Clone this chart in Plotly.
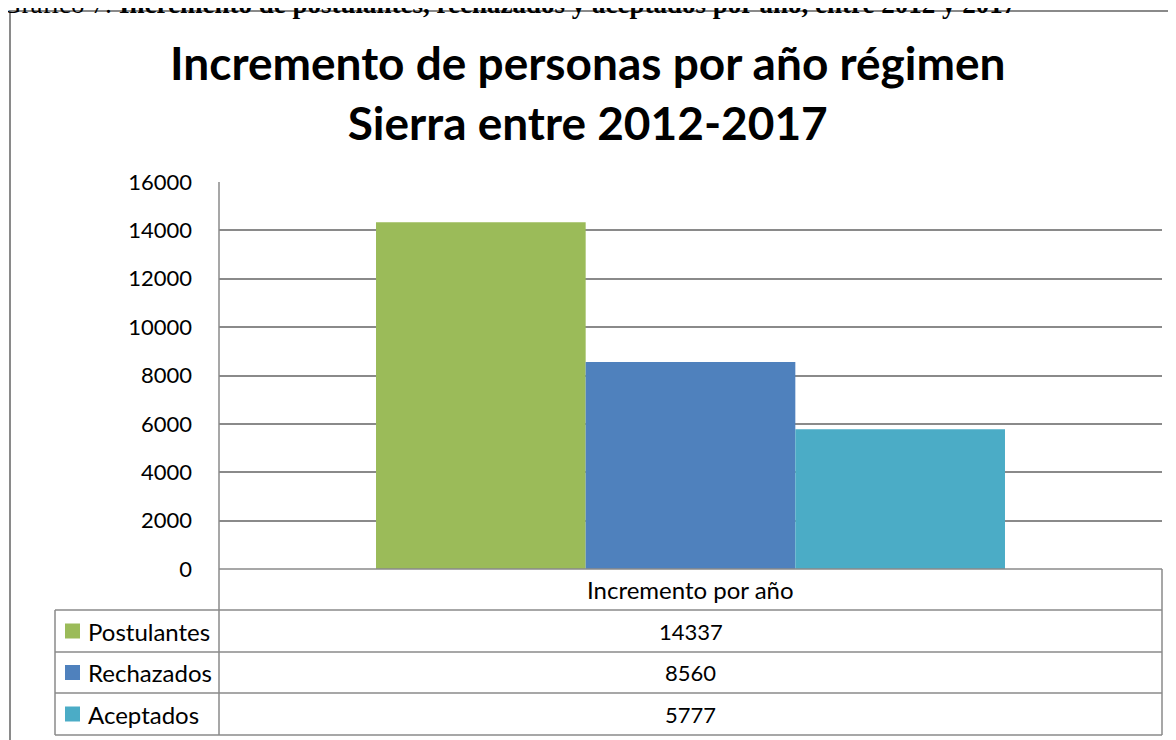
import plotly.graph_objects as go

W, H = 1176, 740
OFF = 8  # page body margin
FW, FH = W - OFF, H - OFF

category = ["Incremento por año"]
series_names = ["Postulantes", "Rechazados", "Aceptados"]
series_values = [14337, 8560, 5777]
series_colors = ["#9BBB59", "#4F81BD", "#4BACC6"]
y_ticks = [0, 2000, 4000, 6000, 8000, 10000, 12000, 14000, 16000]

title_text = "<b>Incremento de personas por año régimen<br>Sierra entre 2012-2017</b>"
caption_text = "Gráfico 7: <b>Incremento de postulantes, rechazados y aceptados por año, entre 2012 y 2017</b>"

FONT = "Lato"
GRID = "#8A8A8A"

# pixel layout (screen coordinates)
PX_L, PX_R = 219, 1162
PY_T, PY_B = 182, 569
LEG_L = 55
ROW_Y = [569, 610, 652, 693, 735]


def fx(px):
    return (px - OFF) / FW


def fy(py):
    return 1 - (py - OFF) / FH


fig = go.Figure()
for name, val, col in zip(series_names, series_values, series_colors):
    fig.add_trace(go.Bar(x=category, y=[val], name=name, marker=dict(color=col, line=dict(width=0)),
                         showlegend=False))

fig.update_layout(
    width=FW, height=FH,
    margin=dict(l=0, r=0, t=0, b=0, autoexpand=False),
    paper_bgcolor="white", plot_bgcolor="white",
    barmode="group", bargap=0.333, bargroupgap=0,
    font=dict(family=FONT, color="black"),
    xaxis=dict(domain=[fx(PX_L), fx(PX_R)], showticklabels=False, showgrid=False,
               zeroline=False, showline=False, fixedrange=True, automargin=False),
    yaxis=dict(domain=[fy(PY_B), fy(PY_T)], range=[0, 16000], tickvals=y_ticks,
               ticktext=[str(v) for v in y_ticks], automargin=False,
               showgrid=True, gridcolor=GRID, gridwidth=1.5, zeroline=False,
               showline=False, ticks="", ticklabelstandoff=26,
               tickfont=dict(family=FONT, size=22, color="black")),
)

shapes = []
# outer frame
shapes.append(dict(type="rect", xref="paper", yref="paper", x0=fx(10), x1=fx(W + 20),
                   y0=fy(H + 20), y1=fy(11), line=dict(color="#8A8A8A", width=2)))
# y axis line / table left vertical of data column
shapes.append(dict(type="line", xref="paper", yref="paper", x0=fx(PX_L), x1=fx(PX_L),
                   y0=fy(PY_T), y1=fy(ROW_Y[-1]), line=dict(color=GRID, width=1.5)))
# right vertical of table
shapes.append(dict(type="line", xref="paper", yref="paper", x0=fx(PX_R), x1=fx(PX_R),
                   y0=fy(ROW_Y[0]), y1=fy(ROW_Y[-1]), line=dict(color=GRID, width=1.5)))
# left vertical of legend column
shapes.append(dict(type="line", xref="paper", yref="paper", x0=fx(LEG_L), x1=fx(LEG_L),
                   y0=fy(ROW_Y[1]), y1=fy(ROW_Y[-1]), line=dict(color=GRID, width=1.5)))
# horizontal lines
for i, ry in enumerate(ROW_Y):
    x0 = PX_L if i == 0 else LEG_L
    shapes.append(dict(type="line", xref="paper", yref="paper", x0=fx(x0), x1=fx(PX_R),
                       y0=fy(ry), y1=fy(ry), line=dict(color=GRID, width=1.5)))

annotations = []
# caption (partly cut at the top edge, as in the reference)
annotations.append(dict(text=caption_text, xref="paper", yref="paper", x=fx(0), y=fy(3.5),
                        xanchor="left", yanchor="middle", showarrow=False,
                        font=dict(family="Liberation Serif", size=27, color="black")))
# title
annotations.append(dict(text=title_text, xref="paper", yref="paper", x=fx(588), y=fy(92),
                        xanchor="center", yanchor="middle", showarrow=False,
                        font=dict(family=FONT, size=46, color="black"), align="center"))
# category label
annotations.append(dict(text=category[0], xref="paper", yref="paper", x=fx((PX_L + PX_R) / 2),
                        y=fy((ROW_Y[0] + ROW_Y[1]) / 2), xanchor="center", yanchor="middle",
                        showarrow=False, font=dict(family=FONT, size=24, color="black")))
for i, (name, val, col) in enumerate(zip(series_names, series_values, series_colors)):
    yc = (ROW_Y[i + 1] + ROW_Y[i + 2]) / 2
    shapes.append(dict(type="rect", xref="paper", yref="paper", x0=fx(65), x1=fx(80),
                       y0=fy(yc + 7.5), y1=fy(yc - 7.5), fillcolor=col, line=dict(width=0)))
    annotations.append(dict(text=name, xref="paper", yref="paper", x=fx(86), y=fy(yc),
                            xanchor="left", yanchor="middle", showarrow=False,
                            font=dict(family=FONT, size=24, color="black")))
    annotations.append(dict(text=str(val), xref="paper", yref="paper", x=fx((PX_L + PX_R) / 2),
                            y=fy(yc), xanchor="center", yanchor="middle", showarrow=False,
                            font=dict(family=FONT, size=22, color="black")))

fig.update_layout(shapes=shapes, annotations=annotations)
fig.write_html("out.html")
